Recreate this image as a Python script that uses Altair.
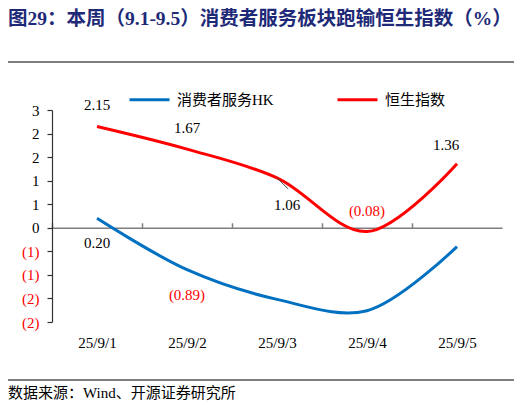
import altair as alt
import pandas as pd

# values
dates = ["25/9/1", "25/9/2", "25/9/3", "25/9/4", "25/9/5"]
hk_values = [0.20, -0.89, -1.52, -1.76, -0.40]
hsi_values = [2.15, 1.67, 1.06, -0.08, 1.36]
series_names = ["消费者服务HK", "恒生指数"]
series_colors = ["#0070C0", "#FF0000"]
y_ticks = [-2, -1.5, -1, -0.5, 0, 0.5, 1, 1.5, 2, 2.5]
hk_labelled = ["25/9/1", "25/9/2"]

title_text = "图29：本周（9.1-9.5）消费者服务板块跑输恒生指数（%）"
source_text = "数据来源：Wind、开源证券研究所"

rows = []
for i, d in enumerate(dates):
    rows.append({"idx": i, "date": d, "series": series_names[0], "value": hk_values[i]})
    rows.append({"idx": i, "date": d, "series": series_names[1], "value": hsi_values[i]})
df = pd.DataFrame(rows)

W, H = 450, 212
Y_MIN, Y_MAX = -2, 2.5
SERIF = "Liberation Serif, Noto Sans CJK SC"
GRAY = "#7f7f7f"

x_scale = alt.Scale(domain=[-0.5, len(dates) - 0.5], nice=False, zero=False)
y_scale = alt.Scale(domain=[Y_MIN, Y_MAX], nice=False, zero=False)
date_expr = "[" + ",".join(f"'{d}'" for d in dates) + "][round(datum.value)]"
neg_red = {"condition": {"test": "datum.value < 0", "value": "#FF0000"}, "value": "black"}

# one y axis shared by every layer
y_axis = alt.Axis(
    values=y_ticks, title=None, grid=False, labelOverlap=False,
    labelExpr="datum.value < 0 ? '(' + format(round(-datum.value), 'd') + ')' : format(round(datum.value), 'd') + '\u00a0'",
    labelColor=neg_red, labelFont=SERIF, labelFontSize=15, labelPadding=8,
    domainColor="#333333", domainWidth=1.2, tickColor="#333333", tickSize=5, tickWidth=1.2,
)
y_enc = alt.Y("value:Q", scale=y_scale, axis=y_axis)

lines = alt.Chart(df).mark_line(interpolate="catmull-rom", strokeWidth=3).encode(
    x=alt.X("idx:Q", scale=x_scale, axis=alt.Axis(
        orient="bottom", values=list(range(len(dates))), labelExpr=date_expr,
        title=None, domain=False, ticks=False, grid=False,
        labelFont=SERIF, labelFontSize=15, labelColor="black", labelPadding=13,
    )),
    y=y_enc,
    color=alt.Color("series:N", scale=alt.Scale(domain=series_names, range=series_colors),
                    legend=alt.Legend(
                        title=None, orient="none", legendX=76, legendY=-32, direction="horizontal",
                        symbolType="stroke", symbolSize=1600, symbolStrokeWidth=3,
                        labelFont=SERIF, labelFontSize=15, labelColor="black",
                        labelOffset=6, columnPadding=57, padding=0,
                    )),
)

# zero line with boundary ticks pointing up
zero_offset = -H * Y_MAX / (Y_MAX - Y_MIN)
leader = alt.Chart(df).transform_filter(
    f"datum.series === '{series_names[1]}' && datum.date === '{dates[2]}'"
).mark_rule(color="#404040", strokeWidth=1, x2Offset=11, y2Offset=11).encode(
    x=alt.X("idx:Q", scale=x_scale, axis=alt.Axis(
        orient="top", offset=zero_offset, values=[i - 0.5 for i in range(len(dates))],
        labels=False, title=None, grid=False, domainColor=GRAY, domainWidth=1.5,
        tickColor=GRAY, tickSize=5, tickWidth=1.5,
    )),
    x2="idx:Q",
    y=y_enc,
    y2="value:Q",
)

base_text = alt.Chart(df).transform_calculate(
    label="datum.value < 0 ? '(' + format(-datum.value, '.2f') + ')' : format(datum.value, '.2f')"
)


def text_layer(filter_expr, dx, dy):
    return base_text.transform_filter(filter_expr).mark_text(
        font=SERIF, fontSize=15, dx=dx, dy=dy, baseline="middle"
    ).encode(
        x=alt.X("idx:Q", scale=x_scale, axis=None),
        y=y_enc,
        text="label:N",
        color=alt.condition("datum.value < 0", alt.value("#FF0000"), alt.value("black")),
    )


hsi = f"datum.series === '{series_names[1]}'"
red_above = text_layer(f"{hsi} && indexof(['{dates[0]}','{dates[1]}','{dates[3]}'], datum.date) >= 0", 0, -21)
red_last = text_layer(f"{hsi} && datum.date === '{dates[4]}'", -11, -19)
red_mid = text_layer(f"{hsi} && datum.date === '{dates[2]}'", 10, 27)
blue_below = text_layer(
    f"datum.series === '{series_names[0]}' && indexof([" + ",".join(f"'{d}'" for d in hk_labelled) + "], datum.date) >= 0",
    0, 25,
)

one = pd.DataFrame({"k": [0]})
sep_top = alt.Chart(one).mark_rule(color=GRAY, strokeWidth=2).encode(
    x=alt.value(-44), x2=alt.value(462), y=alt.value(-48)
)
sep_bottom = alt.Chart(one).mark_rule(color=GRAY, strokeWidth=2).encode(
    x=alt.value(-44), x2=alt.value(462), y=alt.value(270)
)
source = alt.Chart(one).mark_text(
    text=source_text, font=SERIF, fontSize=15, align="left", baseline="middle", color="black"
).encode(x=alt.value(-44), y=alt.value(283))

chart = alt.layer(
    lines, leader, red_above, red_last, red_mid, blue_below, sep_top, sep_bottom, source
).resolve_axis(x="independent").properties(
    width=W, height=H,
    autosize="none",
    padding={"left": 44, "top": 102, "right": 12, "bottom": 80},
    background="white",
    title=alt.TitleParams(
        title_text, anchor="start", frame="group", dx=-44, dy=-28, font=SERIF, fontSize=19.5,
        fontWeight="bold", color="#1E2A78",
    ),
).configure_view(stroke=None)

chart.save("out.html", embed_options={"renderer": "svg", "actions": False})
